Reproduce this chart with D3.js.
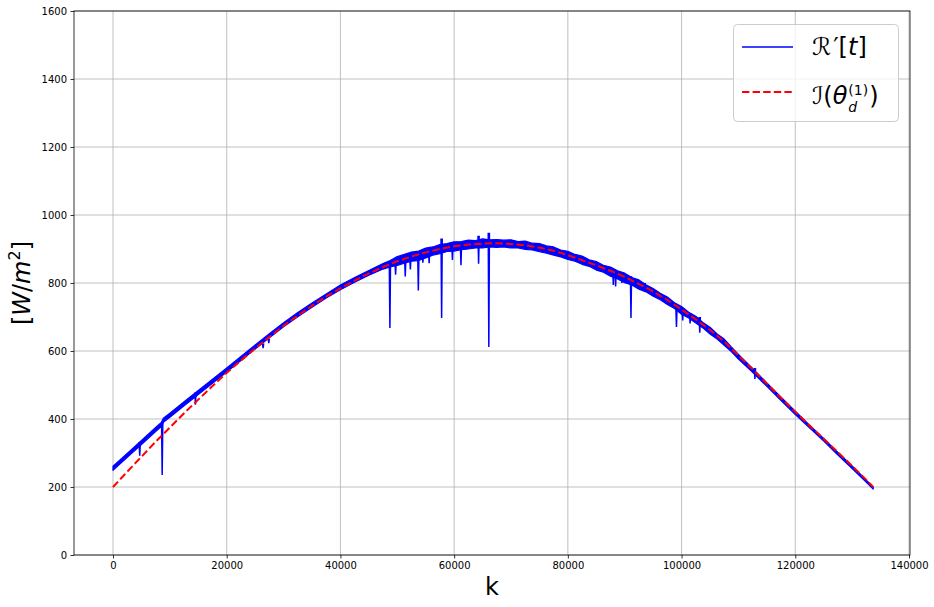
<!DOCTYPE html>
<html><head><meta charset="utf-8">
<script src="https://cdn.jsdelivr.net/npm/d3@7"></script>
<style>
body{margin:0;background:#fff}
svg{display:block;font-family:"DejaVu Sans",sans-serif}
</style>
</head><body>
<svg id="c" width="934" height="607"></svg>
<script>
// ---- data ----
const xTicks = [0, 20000, 40000, 60000, 80000, 100000, 120000, 140000];
const yTicks = [0, 200, 400, 600, 800, 1000, 1200, 1400, 1600];

// measured irradiance R'[t]: noise band (upper / lower envelope)
const bandK = [0,2500,5000,7500,8500,8850,10000,12500,15000,17500,20000,22500,25000,27500,30000,32500,35000,37500,40000,42500,45000,
  47500,48750,50000,51250,52500,53750,55000,56250,57500,58750,60000,61250,62500,63750,65000,66250,67500,68750,70000,71250,72500,73750,
  75000,76250,77500,78750,80000,81250,82500,83750,85000,86250,87500,88750,90000,91250,92500,93750,95000,96250,97500,98750,
  100000,101250,102500,103750,105000,106250,107500,108750,110000,112500,115000,117500,120000,122500,125000,127500,130000,132500,133700];
const bandUpper = [261,299,337,375,390,402,417,451,484,517,550,584,618,651,683,713,741,768,794,816,837,
  857,866,878,884,891,894,903,906,913,916,921,922,926,925,930,927,928,926,927,922,923,917,
  916,909,906,897,893,884,879,868,863,852,847,836,829,816,809,795,784,770,759,742,
  731,714,702,684,670,650,635,612,590,549,506,464,423,382,343,302,262,220,200];
const bandLower = [249,287,325,363,378,390,405,439,472,505,538,572,606,639,671,701,729,756,780,802,823,
  841,847,852,858,864,866,874,882,886,893,894,898,900,903,903,906,905,906,903,903,899,897,
  892,888,882,877,869,864,855,849,838,832,820,812,801,794,782,774,761,751,737,725,
  708,697,682,668,650,635,617,598,576,537,496,454,413,374,335,294,254,214,194];

// short excursions of R'[t] (position, top, bottom)
const spikeK    = [4700,8650,14500,26400,27400,48700,49700,51400,52300,53700,54500,55600,57800,59700,61200,64300,66100,88000,88400,89500,91100,93500,99100,100200,101500,103200,112900];
const spikeHigh = [332,390,478,622,636,856,862,870,876,884,890,895,931,912,914,939,948,840,838,830,820,800,730,725,712,700,550];
const spikeLow  = [292,235,442,608,623,668,824,819,840,778,860,858,697,868,852,857,612,794,790,800,697,775,671,690,681,654,518];

// model I(theta_d^(1))
const redK = [0,2500,5000,7500,10000,12500,15000,17500,20000,22500,25000,27500,30000,32500,35000,37500,40000,42500,45000,47500,50000,52500,55000,57500,60000,62500,65000,67500,70000,72500,75000,77500,80000,82500,85000,87500,90000,92500,95000,97500,100000,102500,105000,107500,110000,112500,115000,117500,120000,122500,125000,127500,130000,132500,133700];
const redV = [200,245,289,333,375,417,457,497,536,572,607,641,674,704,733,760,784,807,828,847,864,878,890,900,908,913,916,917,915,911,904,895,882,867,852,836,818,797,775,750,722,693,662,628,587,546,504,462,421,381,342,302,262,221,200];

// ---- drawing ----
const L=74, R=910, T=11, B=555;
const svg = d3.select("#c");
const x = d3.scaleLinear().domain([-6860, 140176]).range([L, R]);
const y = d3.scaleLinear().domain([0, 1600]).range([B, T]);

svg.append("defs").append("clipPath").attr("id","clip")
  .append("rect").attr("x",L).attr("y",T).attr("width",R-L).attr("height",B-T);

// grid
const grid = svg.append("g").attr("stroke","#b0b0b0").attr("stroke-width",0.8);
xTicks.forEach(t=>grid.append("line").attr("x1",x(t)).attr("x2",x(t)).attr("y1",T).attr("y2",B));
yTicks.forEach(t=>grid.append("line").attr("y1",y(t)).attr("y2",y(t)).attr("x1",L).attr("x2",R));

const plot = svg.append("g").attr("clip-path","url(#clip)");

// blue band
const bandData = bandK.map((k,i)=>({k, u:bandUpper[i], l:bandLower[i]}));
plot.append("path").datum(bandData)
  .attr("d", d3.area().x(d=>x(d.k)).y0(d=>y(d.l)).y1(d=>y(d.u)))
  .attr("fill","#0000ff").attr("stroke","#0000ff").attr("stroke-width",1.2).attr("stroke-linejoin","round");

// spikes
spikeK.forEach((k,i)=>{
  plot.append("path")
    .attr("d", d3.line()([[x(k)-0.6, y(spikeHigh[i])],[x(k), y(spikeLow[i])],[x(k)+0.6, y(spikeHigh[i])]]))
    .attr("fill","none").attr("stroke","#0000ff").attr("stroke-width",1.5);
});

// red dashed model
const redData = redK.map((k,i)=>[k, redV[i]]);
plot.append("path").datum(redData)
  .attr("d", d3.line().x(d=>x(d[0])).y(d=>y(d[1])))
  .attr("fill","none").attr("stroke","#ff0000").attr("stroke-width",2)
  .attr("stroke-dasharray","7.4,3.2");

// spines
svg.append("rect").attr("x",L).attr("y",T).attr("width",R-L).attr("height",B-T)
  .attr("fill","none").attr("stroke","#000").attr("stroke-width",0.8);

// axes
const xa = svg.append("g").attr("transform",`translate(0,${B})`)
  .call(d3.axisBottom(x).tickValues(xTicks).tickSize(3.5).tickPadding(3.5).tickFormat(d3.format("d")));
const ya = svg.append("g").attr("transform",`translate(${L},0)`)
  .call(d3.axisLeft(y).tickValues(yTicks).tickSize(3.5).tickPadding(3.5).tickFormat(d3.format("d")));
[xa,ya].forEach(a=>{
  a.select(".domain").remove();
  a.selectAll(".tick line").attr("stroke","#000").attr("stroke-width",0.8);
  a.selectAll(".tick text").attr("fill","#000").style("font-size","10px").style("font-family","DejaVu Sans");
});

// axis labels
svg.append("text").attr("x",492).attr("y",595).attr("text-anchor","middle")
  .style("font-size","24px").text("k");
const yl = svg.append("text").attr("transform","translate(30,283) rotate(-90)")
  .attr("text-anchor","middle").style("font-size","24px");
yl.append("tspan").text("[");
yl.append("tspan").style("font-style","italic").text("W");
yl.append("tspan").text("/");
yl.append("tspan").style("font-style","italic").text("m");
yl.append("tspan").attr("dy",-10).style("font-size","16px").text("2");
yl.append("tspan").attr("dy",10).text("]");

// legend
const lg = svg.append("g");
lg.append("rect").attr("x",733.5).attr("y",24.5).attr("width",165).attr("height",97).attr("rx",4)
  .attr("fill","#fff").attr("fill-opacity",0.8).attr("stroke","#cccccc").attr("stroke-width",1);
lg.append("line").attr("x1",742).attr("x2",793).attr("y1",47).attr("y2",47)
  .attr("stroke","#0000ff").attr("stroke-width",1.5);
lg.append("line").attr("x1",742).attr("x2",793).attr("y1",92).attr("y2",92)
  .attr("stroke","#ff0000").attr("stroke-width",2).attr("stroke-dasharray","7.4,3.2");

const t1 = lg.append("text").attr("x",812).attr("y",55).style("font-size","24px");
t1.append("tspan").text("ℛ");
t1.append("tspan").attr("dx",2).text("′[");
t1.append("tspan").style("font-style","italic").text("t");
t1.append("tspan").text("]");

const t2 = lg.append("text").attr("x",812).attr("y",104).style("font-size","24px");
t2.append("tspan").text("ℐ(");
t2.append("tspan").style("font-style","italic").text("θ");
const w2 = t2.node().getComputedTextLength();
const sup = t2.append("tspan").attr("x",812+w2+1).attr("y",95).style("font-size","14px").text("(1)");
const ws = sup.node().getComputedTextLength();
t2.append("tspan").attr("x",812+w2+1).attr("y",112).style("font-size","14px").style("font-style","italic").text("d");
t2.append("tspan").attr("x",812+w2+ws+2).attr("y",104).text(")");
</script>
</body></html>
